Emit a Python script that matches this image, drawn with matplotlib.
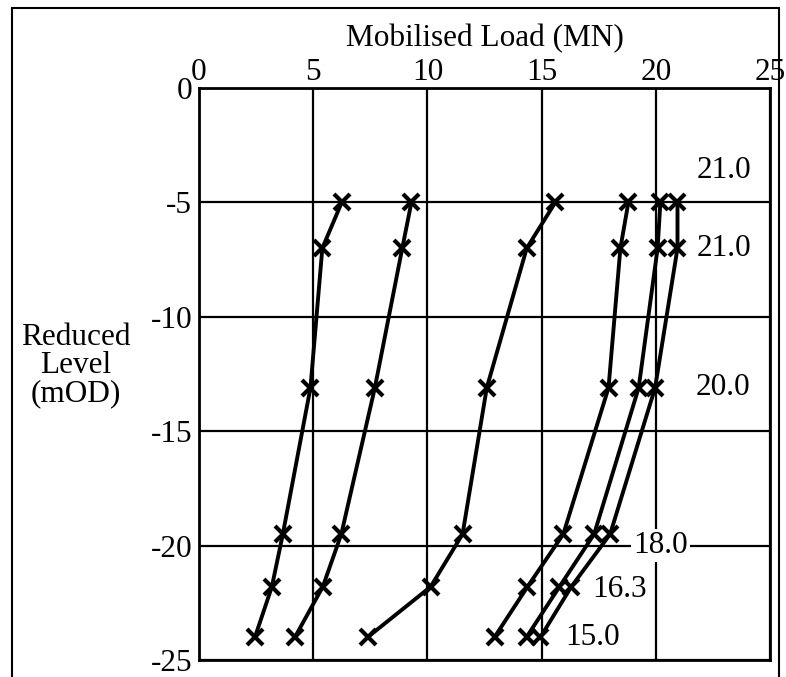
import matplotlib
matplotlib.use("Agg")
import matplotlib.pyplot as plt
from matplotlib.patches import Rectangle

# Data
levels = [-5.0, -7.0, -13.1, -19.5, -21.8, -24.0]
line1 = [6.25, 5.4, 4.88, 3.67, 3.19, 2.45]
line2 = [9.3, 8.9, 7.7, 6.23, 5.42, 4.2]
line3 = [15.6, 14.35, 12.6, 11.54, 10.14, 7.39]
line4 = [18.8, 18.45, 17.93, 15.95, 14.38, 12.94]
line5 = [20.2, 20.08, 19.25, 17.3, 15.78, 14.34]
line6 = [20.95, 20.95, 19.97, 18.0, 16.3, 14.95]
series = [line1, line2, line3, line4, line5, line6]

label_texts = ["21.0", "21.0", "20.0", "18.0", "16.3", "15.0"]
label_x = [21.8, 21.8, 21.75, 19.0, 17.2, 16.05]
label_y = [-3.6, -7.0, -13.1, -20.0, -21.9, -24.0]

xticks = [0, 5, 10, 15, 20, 25]
yticks = [0, -5, -10, -15, -20, -25]

plt.rcParams['font.family'] = ['Liberation Serif', 'DejaVu Serif']
FS = 22.5

fig = plt.figure(figsize=(7.86, 6.77), dpi=100)
W, H = 786, 677
ax = fig.add_axes([199 / W, 1 - 660 / H, (770 - 199) / W, (660 - 88) / H])

# outer frame
fig.patches.append(Rectangle((12 / W, -0.05), (779 - 12) / W, 1 - 8 / H + 0.05,
                             transform=fig.transFigure, fill=False,
                             edgecolor='black', linewidth=1.5))

ax.set_xlim(0, 25)
ax.set_ylim(-25, 0)
ax.set_xticks(xticks)
ax.set_yticks(yticks)
ax.set_xticklabels([str(t) for t in xticks])
ax.set_yticklabels([str(t) for t in yticks])
ax.xaxis.tick_top()
ax.xaxis.set_label_position('top')
ax.tick_params(axis='y', length=0, labelsize=FS, pad=5)
ax.tick_params(axis='x', length=0, labelsize=FS, pad=1)
ax.grid(True, color='black', linewidth=1.6)
for s in ax.spines.values():
    s.set_linewidth(2.0)
    s.set_color('black')

for vals in series:
    ax.plot(vals, levels, color='black', linewidth=2.8, marker='x',
            markersize=11, markeredgewidth=3, zorder=3, clip_on=False)

for t, x, y in zip(label_texts, label_x, label_y):
    ax.text(x, y, t, fontsize=FS, ha='left', va='center', zorder=4,
            bbox=dict(facecolor='white', edgecolor='none', pad=1.5))

ax.set_xlabel("Mobilised Load (MN)", fontsize=FS, labelpad=8)
ax.set_ylabel("Reduced\nLevel\n(mOD)", fontsize=FS, rotation=0,
              ha='center', va='center', linespacing=0.95)
ax.yaxis.set_label_coords(-0.215, 0.515)

fig.savefig("out.png", dpi=100)
